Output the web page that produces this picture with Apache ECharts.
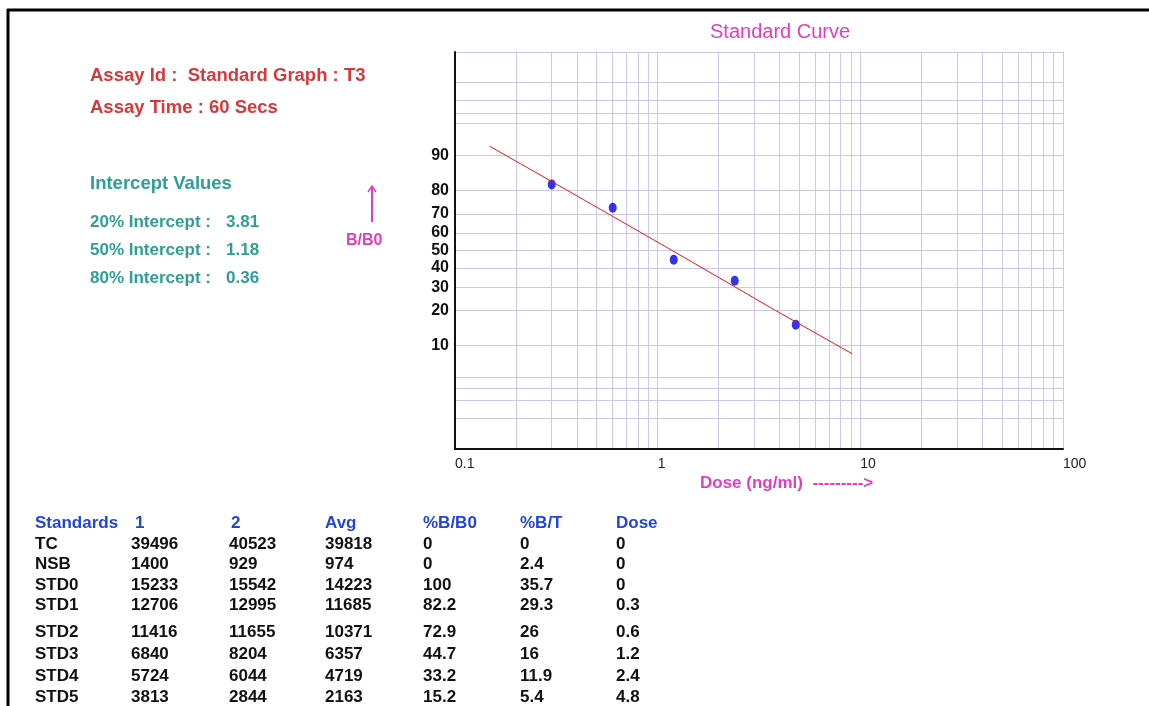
<!DOCTYPE html>
<html>
<head>
<meta charset="utf-8">
<title>Standard Curve</title>
<script src="https://cdn.jsdelivr.net/npm/echarts@6/dist/echarts.min.js"></script>
<style>
  html, body { margin: 0; padding: 0; background: #fff; }
  #main { width: 1149px; height: 706px; }
</style>
</head>
<body>
<div id="main"></div>
<script>
// table data
var standards = ['TC', 'NSB', 'STD0', 'STD1', 'STD2', 'STD3', 'STD4', 'STD5'];
var count1 = [39496, 1400, 15233, 12706, 11416, 6840, 5724, 3813];
var count2 = [40523, 929, 15542, 12995, 11655, 8204, 6044, 2844];
var avgCount = [39818, 974, 14223, 11685, 10371, 6357, 4719, 2163];
var pctB0 = [0, 0, 100, 82.2, 72.9, 44.7, 33.2, 15.2];
var pctBT = [0, 2.4, 35.7, 29.3, 26, 16, 11.9, 5.4];
var dose = [0, 0, 0, 0.3, 0.6, 1.2, 2.4, 4.8];

// fitted curve (ends) and the intercepts
var curveDose = [0.148, 0.36, 1.18, 3.81, 9.1];
var curveB0 = [91.8, 80, 50, 20, 8.4];

// axis ticks
var xGrid = [0.1, 0.2, 0.3, 0.4, 0.5, 0.6, 0.7, 0.8, 0.9, 1, 2, 3, 4, 5, 6, 7, 8, 9, 10, 20, 30, 40, 50, 60, 70, 80, 90, 100];
var xLabels = [0.1, 1, 10, 100];
var yGrid = [1, 2, 3, 4, 5, 10, 20, 30, 40, 50, 60, 70, 80, 90, 95, 96, 97, 98, 99];
var yLabels = [10, 20, 30, 40, 50, 60, 70, 80, 90];

var intercepts = [['20% Intercept', '3.81'], ['50% Intercept', '1.18'], ['80% Intercept', '0.36']];

// logit scale for %B/B0, log10 for dose
function logit(p) { p = p / 100; return Math.log(p / (1 - p)); }
function unlogit(v) { return 100 / (1 + Math.exp(-v)); }

var RED = '#d43a3a', TEAL = '#2e9e96', PINK = '#e23cc6', BLUE = '#2244d8';
var FONT = '"Liberation Sans", Arial, sans-serif';

var points = [];
for (var i = 0; i < dose.length; i++) {
  if (dose[i] > 0) points.push([Math.log10(dose[i]), logit(pctB0[i])]);
}
var curve = curveDose.map(function (d, i) { return [Math.log10(d), logit(curveB0[i])]; });

var graphic = [];
function txt(x, y, s, color, size, weight) {
  graphic.push({
    type: 'text', x: x, y: y, silent: true,
    style: { text: s, fill: color, font: (weight || 'bold') + ' ' + size + 'px ' + FONT, verticalAlign: 'middle', align: 'left' }
  });
}

// frame
graphic.push({ type: 'line', shape: { x1: 7, y1: 10, x2: 1149, y2: 10 }, style: { stroke: '#000', lineWidth: 3 } });
graphic.push({ type: 'line', shape: { x1: 8, y1: 9, x2: 8, y2: 706 }, style: { stroke: '#000', lineWidth: 3 } });

// header texts
txt(90, 76, 'Assay Id :  Standard Graph : T3', RED, 18.5);
txt(90, 108, 'Assay Time : 60 Secs', RED, 18.5);
txt(90, 184, 'Intercept Values', TEAL, 18.5);
intercepts.forEach(function (r, k) {
  txt(90, 222 + k * 28, r[0] + ' :', TEAL, 17);
  txt(226, 222 + k * 28, r[1], TEAL, 17);
});

// B/B0 arrow
graphic.push({ type: 'line', shape: { x1: 372, y1: 222, x2: 372, y2: 187 }, style: { stroke: PINK, lineWidth: 2 } });
graphic.push({ type: 'polyline', shape: { points: [[368, 192], [372, 186], [376, 192]] }, style: { stroke: PINK, lineWidth: 1.5, fill: null } });
txt(346, 241, 'B/B0', PINK, 16);
txt(700, 483, 'Dose (ng/ml)  --------->', PINK, 17);

// table
var colX = [35, 131, 229, 325, 423, 520, 616];
var headX = [35, 135, 231, 325, 423, 520, 616];
var heads = ['Standards', '1', '2', 'Avg', '%B/B0', '%B/T', 'Dose'];
heads.forEach(function (h, c) { txt(headX[c], 523, h, BLUE, 17); });
var rowY = [544, 564, 585, 605, 632, 654, 676, 697];
standards.forEach(function (s, r) {
  var row = [s, count1[r], count2[r], avgCount[r], pctB0[r], pctBT[r], dose[r]];
  row.forEach(function (v, c) { txt(colX[c], rowY[r], String(v), '#111', 17); });
});

var chart = echarts.init(document.getElementById('main'));
chart.setOption({
  animation: false,
  backgroundColor: '#fff',
  title: {
    text: 'Standard Curve', left: 705, top: 17,
    textStyle: { color: PINK, fontSize: 20, fontWeight: 'normal', fontFamily: FONT }
  },
  grid: { left: 455, right: 86, top: 52, bottom: 257 },
  xAxis: {
    type: 'value', min: -1, max: 2,
    axisLine: { onZero: false, lineStyle: { color: '#111', width: 2 } },
    axisTick: { show: false, customValues: xGrid.map(Math.log10) },
    splitLine: { show: true, lineStyle: { color: '#c8c8f0', width: 1 } },
    axisLabel: {
      customValues: xLabels.map(Math.log10), align: 'left', margin: 8,
      color: '#222', fontSize: 14, fontFamily: FONT,
      formatter: function (v) { return String(+Math.pow(10, v).toPrecision(3)); }
    }
  },
  yAxis: {
    type: 'value', min: logit(1), max: logit(99),
    axisLine: { onZero: false, lineStyle: { color: '#111', width: 2 } },
    axisTick: { show: false, customValues: yGrid.map(logit) },
    splitLine: { show: true, lineStyle: { color: '#c8c8f0', width: 1 } },
    axisLabel: {
      customValues: yLabels.map(logit), margin: 6,
      color: '#111', fontSize: 16, fontWeight: 'bold', fontFamily: FONT,
      formatter: function (v) { return String(Math.round(unlogit(v))); }
    }
  },
  series: [
    {
      type: 'line', data: curve, symbol: 'none', silent: true,
      lineStyle: { color: '#ff1010', width: 1 }
    },
    {
      type: 'scatter', data: points, symbol: 'circle', symbolSize: [8, 10],
      itemStyle: { color: '#0000ee' }
    }
  ],
  graphic: graphic
});
</script>
</body>
</html>
